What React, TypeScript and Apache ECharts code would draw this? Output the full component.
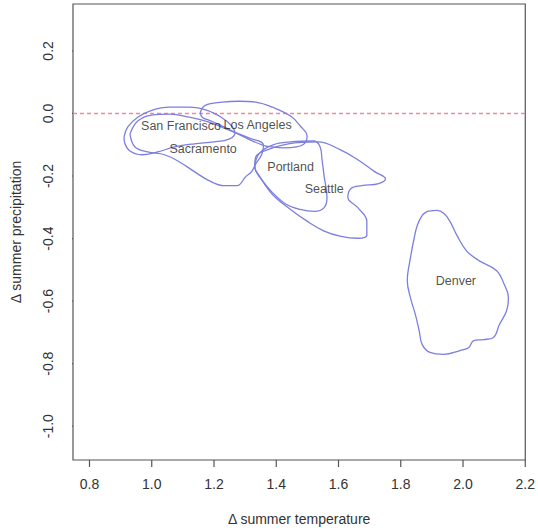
import React, { useEffect, useRef } from "react";
import * as echarts from "echarts";

// Axis ticks
const xTicks = [0.8, 1.0, 1.2, 1.4, 1.6, 1.8, 2.0, 2.2];
const yTicks = [0.2, 0.0, -0.2, -0.4, -0.6, -0.8, -1.0];

// Contour outlines [temperature change, precipitation change]
const sanFrancisco = [
  [0.911, -0.075], [0.923, -0.043], [0.955, -0.012], [1.0, 0.01], [1.057, 0.02], [1.121, 0.02],
  [1.178, 0.01], [1.223, -0.012], [1.254, -0.037], [1.267, -0.063], [1.248, -0.082], [1.2, -0.091],
  [1.137, -0.097], [1.073, -0.107], [1.019, -0.123], [0.968, -0.132], [0.93, -0.12], [0.914, -0.097],
];
const sacramento = [
  [0.93, -0.066], [0.955, -0.024], [1.0, -0.005], [1.057, -0.002], [1.121, -0.012], [1.184, -0.028],
  [1.248, -0.053], [1.312, -0.078], [1.359, -0.101], [1.353, -0.132], [1.334, -0.161], [1.321, -0.186],
  [1.302, -0.202], [1.274, -0.231], [1.232, -0.231], [1.184, -0.215], [1.137, -0.186], [1.089, -0.155],
  [1.041, -0.132], [0.987, -0.123], [0.946, -0.107],
];
const losAngeles = [
  [1.156, 0.004], [1.172, 0.026], [1.226, 0.036], [1.28, 0.039], [1.334, 0.036], [1.388, 0.02],
  [1.446, -0.008], [1.477, -0.04], [1.499, -0.072], [1.493, -0.094], [1.465, -0.107], [1.423, -0.11],
  [1.388, -0.107], [1.356, -0.101], [1.296, -0.075], [1.232, -0.043], [1.191, -0.024], [1.162, -0.012],
];
const portland = [
  [1.331, -0.164], [1.347, -0.126], [1.388, -0.101], [1.446, -0.091], [1.522, -0.088], [1.541, -0.107],
  [1.547, -0.148], [1.554, -0.202], [1.563, -0.269], [1.554, -0.301], [1.522, -0.313], [1.477, -0.307],
  [1.433, -0.291], [1.388, -0.253], [1.356, -0.215], [1.334, -0.183],
];
const seattle = [
  [1.369, -0.117], [1.439, -0.097], [1.534, -0.091], [1.608, -0.117], [1.662, -0.148], [1.716, -0.186],
  [1.751, -0.209], [1.729, -0.224], [1.675, -0.231], [1.64, -0.24], [1.63, -0.269], [1.662, -0.301],
  [1.691, -0.345], [1.691, -0.389], [1.662, -0.399], [1.608, -0.393], [1.554, -0.376], [1.5, -0.345],
  [1.446, -0.307], [1.388, -0.259], [1.347, -0.202], [1.331, -0.17], [1.334, -0.139],
];
const denver = [
  [1.885, -0.313], [1.917, -0.31], [1.939, -0.32], [1.958, -0.345], [1.98, -0.389], [2.012, -0.44],
  [2.054, -0.472], [2.108, -0.503], [2.133, -0.548], [2.146, -0.589], [2.14, -0.631], [2.117, -0.675],
  [2.098, -0.716], [2.066, -0.723], [2.034, -0.726], [2.019, -0.748], [1.99, -0.758], [1.939, -0.77],
  [1.894, -0.764], [1.869, -0.739], [1.859, -0.694], [1.847, -0.643], [1.831, -0.589], [1.821, -0.535],
  [1.831, -0.462], [1.843, -0.399], [1.853, -0.358], [1.869, -0.326],
];

const cityNames = ["San Francisco", "Los Angeles", "Sacramento", "Portland", "Seattle", "Denver"];
const cityLabelX = [1.094, 1.34, 1.165, 1.446, 1.554, 1.977];
const cityLabelY = [-0.04, -0.037, -0.115, -0.17, -0.243, -0.536];

const contours = [sanFrancisco, losAngeles, sacramento, portland, seattle, denver];

const X_MIN = 0.747;
const X_MAX = 2.2;
const Y_MIN = -1.108;
const Y_MAX = 0.35;
// tick length in axis units (~7px)
const TICK_LEN = 0.022;

export default function App() {
  const ref = useRef<HTMLDivElement>(null);
  useEffect(() => {
    if (!ref.current) return;
    const chart = echarts.init(ref.current, null, { renderer: "svg" });
    const font = "Liberation Sans, Arial, sans-serif";
    const contourSeries = contours.map((pts, i) => ({
      type: "line",
      name: cityNames[i],
      data: [...pts, pts[0]],
      smooth: 0.4,
      symbol: "none",
      lineStyle: { color: "#7c7fdf", width: 1.3 },
      z: 3,
    }));
    const xTickData: any[] = [];
    xTicks.forEach((v) => {
      xTickData.push([v, Y_MIN], [v, Y_MIN - TICK_LEN], ["-", "-"]);
    });
    const yTickData: any[] = [];
    yTicks.forEach((v) => {
      yTickData.push([X_MIN, v], [X_MIN - TICK_LEN, v], ["-", "-"]);
    });
    const tickSeries = (data: any[]) => ({
      type: "line",
      data,
      clip: false,
      connectNulls: false,
      symbol: "none",
      silent: true,
      lineStyle: { color: "#555", width: 1.2 },
      z: 4,
    });
    chart.setOption({
      animation: false,
      grid: { left: 73, top: 4, right: 9, bottom: 68, show: true, borderColor: "#555", borderWidth: 1.2 },
      xAxis: {
        type: "value",
        min: X_MIN,
        max: X_MAX,
        name: "\u0394 summer temperature",
        nameLocation: "middle",
        nameGap: 52,
        nameTextStyle: { fontFamily: font, fontSize: 14, color: "#333" },
        axisLine: { show: false, onZero: false },
        splitLine: { show: false },
        axisTick: { show: false },
        axisLabel: {
          customValues: xTicks,
          formatter: (v: number) => v.toFixed(1),
          fontFamily: font,
          fontSize: 14,
          color: "#333",
          margin: 17,
        },
      },
      yAxis: {
        type: "value",
        min: Y_MIN,
        max: Y_MAX,
        name: "\u0394 summer precipitation",
        nameLocation: "middle",
        nameRotate: 90,
        nameGap: 50,
        nameTextStyle: { fontFamily: font, fontSize: 14, color: "#333" },
        axisLine: { show: false, onZero: false },
        splitLine: { show: false },
        axisTick: { show: false },
        axisLabel: {
          customValues: yTicks,
          rotate: 90,
          formatter: (v: number) => v.toFixed(1),
          fontFamily: font,
          fontSize: 14,
          color: "#333",
          margin: 18,
        },
      },
      series: [
        {
          type: "line",
          data: [[X_MIN, 0], [X_MAX, 0]],
          symbol: "none",
          lineStyle: { color: "#f08a9a", width: 1.5, type: [4, 3] },
          z: 2,
        },
        ...contourSeries,
        tickSeries(xTickData),
        tickSeries(yTickData),
        {
          type: "scatter",
          data: cityNames.map((n, i) => [cityLabelX[i], cityLabelY[i], n]),
          symbolSize: 1,
          itemStyle: { color: "rgba(0,0,0,0)" },
          label: {
            show: true,
            position: "inside",
            formatter: (p: any) => p.data[2],
            fontFamily: font,
            fontSize: 12.5,
            color: "#222",
          },
          z: 5,
        },
      ],
    });
    return () => chart.dispose();
  }, []);
  return (
    <div
      ref={ref}
      style={{ position: "fixed", left: 0, top: 0, width: 538, height: 531, background: "#fff" }}
    />
  );
}
